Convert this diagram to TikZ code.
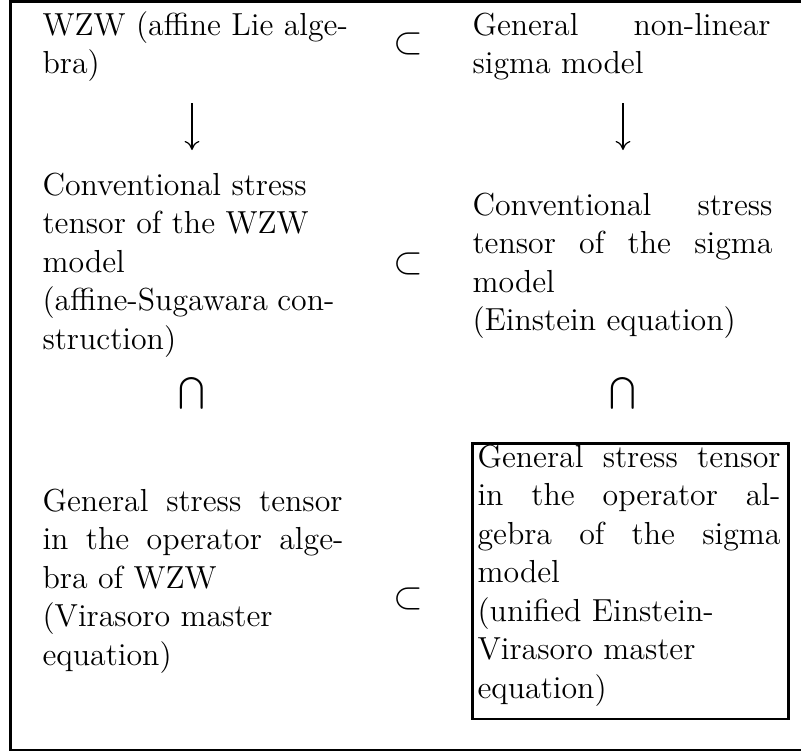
\documentclass[tikz,border=0pt]{standalone}
\usepackage{amsmath}
\usetikzlibrary{arrows.meta}
\newdimen\pxu
\pxu=0.3766pt
\begin{document}
\begin{tikzpicture}[x=0.3766pt,y=-0.3766pt,
  cell/.style={anchor=base west, inner sep=0pt, font=\fontsize{12}{14.5}\selectfont},
  sym/.style={inner sep=0pt, font=\fontsize{12}{14.5}\selectfont},
  subsym/.style={inner sep=0pt, font=\fontsize{14.4}{17}\selectfont},
  frameline/.style={line width=1.05pt},
  maparrow/.style={line width=0.45pt, -{Computer Modern Rightarrow[width=5.6pt,length=3.4pt]}}]
\useasboundingbox (0,0) rectangle (801,752);
% outer table rules
\draw[frameline] (801,1.3) -- (10.5,1.3) -- (10.5,750) -- (801,750);
% cells
\node[cell] (wzw) at (42,35) {\vtop{\hbox{WZW (affine Lie alge-}\hbox{bra)}}};
\node[cell] (sigma) at (472,35) {\vtop{\hbox to 298\pxu{General non-linear}\hbox{sigma model}}};
\node[cell] (convwzw) at (42,195) {\vtop{\hbox{Conventional stress}\hbox{tensor of the WZW}\hbox{model}\hbox to 292\pxu{(affine-Sugawara con-}\hbox{struction)}}};
\node[cell] (convsigma) at (472,215) {\vtop{\hbox to 300\pxu{Conventional stress}\hbox to 300\pxu{tensor of the sigma}\hbox{model}\hbox{(Einstein equation)}}};
\node[cell] (genwzw) at (42,511) {\vtop{\hbox to 300\pxu{General stress tensor}\hbox to 301\pxu{in the operator alge-}\hbox{bra of WZW}\hbox{(Virasoro master}\hbox{equation)}}};
\node[cell] (gensigma) at (477,467) {\vtop{\hbox to 303\pxu{General stress tensor}\hbox to 303\pxu{in the operator al-}\hbox to 303\pxu{gebra of the sigma}\hbox{model}\hbox{(unified Einstein-}\hbox{Virasoro master}\hbox{equation)}}};
% box round the last cell
\coordinate (boxnw) at (472.8,443.3);
\coordinate (boxse) at (788.7,719);
\draw[frameline] (boxnw) rectangle (boxse);
% symbols
\node[subsym] (sub1) at (408,44) {$\subset$};
\node[subsym] (sub2) at (408,264) {$\subset$};
\node[subsym] (sub3) at (408,598.5) {$\subset$};
\node[sym] (cap1) at (192,393.5) {$\bigcap$};
\node[sym] (cap2) at (623,393.5) {$\bigcap$};
% down arrows
\coordinate (a1top) at (192,103);
\coordinate (a1bot) at (192,150);
\coordinate (a2top) at (623,103);
\coordinate (a2bot) at (623,150);
\draw[maparrow] (a1top) -- (a1bot);
\draw[maparrow] (a2top) -- (a2bot);
\end{tikzpicture}
\end{document}
